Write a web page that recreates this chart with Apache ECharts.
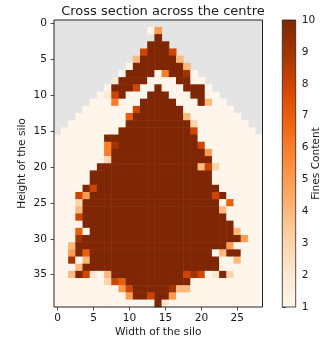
<!DOCTYPE html>
<html>
<head>
<meta charset="utf-8">
<script src="https://cdn.jsdelivr.net/npm/echarts@6/dist/echarts.min.js"></script>
<style>
  html, body { margin: 0; padding: 0; background: #fff; }
  #chart { width: 331px; height: 345px; }
</style>
</head>
<body>
<div id="chart"></div>
<script>
// Fines content across the central section of the silo.
// One string per row (top row first), one character per column:
// '-' = no material (left empty), '1'..'9' = fines content, 'X' = 10.
const fines = [
  "-----------------------------",
  "-------------15--------------",
  "--------------X--------------",
  "-------------XXX-------------",
  "------------8XXX8------------",
  "-----------4XXXXX4-----------",
  "----------1XXXXXXX4----------",
  "---------1XXXX16XX91---------",
  "--------2XXXX1111XX11--------",
  "-------1XXX811X111XXX1-------",
  "------128X111XXX111XX11------",
  "-----1116111XXXXX111X411-----",
  "----11111118XXXXXX1111111----",
  "---11111117XXXXXXX41111111---",
  "--11111111XXXXXXXXX31111111--",
  "-11111111XXXXXXXXXX811111111-",
  "1111111XXXXXXXXXXXXX111111111",
  "111111169XXXXXXXXXXX811111111",
  "11111116XXXXXXXXXXXXX51111111",
  "11111113XXXXXXXXXXXXXX1111111",
  "111111XXXXXXXXXXXXXX483111111",
  "11111XXXXXXXXXXXXXXXXX1111111",
  "11111XXXXXXXXXXXXXXXXX1111111",
  "1111X8XXXXXXXXXXXXXXXXX111111",
  "11185XXXXXXXXXXXXXXXXX8X11111",
  "1113XXXXXXXXXXXXXXXXXXX171111",
  "1114XXXXXXXXXXXXXXXXXXX411111",
  "1118XXXXXXXXXXXXXXXXXXXX11111",
  "1111XXXXXXXXXXXXXXXXXXXXX1111",
  "11171XXXXXXXXXXXXXXXXXXXX4111",
  "1119XXXXXXXXXXXXXXXXXXXXXX511",
  "114XXXXXXXXXXXXXXXXXXXXX51111",
  "115X7XXXXXXXXXXXXXXXXX14XX111",
  "11914XXXXXXXXXXXXXXXXXX114111",
  "1114XXXXXXXXXXXXXXXXXXX111111",
  "114X8214XXXXXXXXXX89812X31111",
  "1111111387XXXXXXXXX1111111111",
  "11111111158XXXXX9441111111111",
  "11111111115XX8XX5111111111111",
  "11111111111111X21111111111111"
];

const widthCats = Array.from({ length: 29 }, (_, i) => String(i));
const heightCats = Array.from({ length: 40 }, (_, i) => String(i));
const tickStep = 5;
const colorbarTicks = [1, 2, 3, 4, 5, 6, 7, 8, 9, 10];
const valueRange = [1, 10];

// matplotlib "Oranges"
const oranges = ['#fff5eb', '#fee6ce', '#fdd0a2', '#fdae6b', '#fd8d3c',
                 '#f16913', '#d94801', '#a63603', '#7f2704'];

const cells = [];
fines.forEach((row, y) => {
  row.split('').forEach((ch, x) => {
    if (ch === '-') return;
    cells.push([x, y, ch === 'X' ? 10 : Number(ch)]);
  });
});

const textColor = '#1a1a1a';
const lineColor = '#222';
const font = 'DejaVu Sans';
const labelSize = 10.6;
const everyFifth = (i) => i % tickStep === 0;

const chart = echarts.init(document.getElementById('chart'), null, { renderer: 'canvas' });
chart.setOption({
  animation: false,
  backgroundColor: '#fff',
  title: {
    text: 'Cross section across the centre',
    left: 158, top: 0.5, textAlign: 'center',
    textStyle: { fontFamily: font, fontSize: 13, fontWeight: 'normal', color: textColor }
  },
  grid: [
    { left: 54, top: 20, width: 208.5, height: 287, show: true,
      backgroundColor: '#e4e4e4', borderWidth: 0 },
    { left: 282.3, top: 20, width: 13.4, height: 287 }
  ],
  xAxis: [
    {
      type: 'category', data: widthCats, gridIndex: 0,
      name: 'Width of the silo', nameLocation: 'middle', nameGap: 19.5, nameMoveOverlap: false,
      nameTextStyle: { fontFamily: font, fontSize: labelSize, color: textColor },
      axisLine: { show: false },
      axisTick: { show: true, alignWithLabel: true, interval: everyFifth, length: 3.5,
                  lineStyle: { color: lineColor, width: 0.8 } },
      axisLabel: { interval: everyFifth, margin: 5.5, fontFamily: font, fontSize: labelSize, color: textColor },
      splitLine: { show: false }
    },
    { type: 'value', gridIndex: 1, min: 0, max: 1, show: false }
  ],
  yAxis: [
    {
      type: 'category', data: heightCats, inverse: true, gridIndex: 0,
      name: 'Height of the silo', nameLocation: 'middle', nameGap: 26, nameRotate: 90,
      nameMoveOverlap: false,
      nameTextStyle: { fontFamily: font, fontSize: labelSize, color: textColor },
      axisLine: { show: false },
      axisTick: { show: true, alignWithLabel: true, interval: everyFifth, length: 3.5,
                  lineStyle: { color: lineColor, width: 0.8 } },
      axisLabel: { interval: everyFifth, margin: 7, fontFamily: font, fontSize: labelSize, color: textColor },
      splitLine: { show: false }
    },
    {
      type: 'value', gridIndex: 1, position: 'right',
      min: valueRange[0], max: valueRange[1], interval: 1,
      name: 'Fines Content', nameLocation: 'middle', nameGap: 14.6, nameRotate: 90,
      nameMoveOverlap: false,
      nameTextStyle: { fontFamily: font, fontSize: labelSize, color: textColor },
      axisLine: { show: false },
      axisTick: { show: true, length: 3.5, lineStyle: { color: lineColor, width: 0.8 } },
      axisLabel: { margin: 6, fontFamily: font, fontSize: labelSize, color: textColor,
                   formatter: (v) => colorbarTicks.includes(v) ? String(v) : '' },
      splitLine: { show: false }
    }
  ],
  visualMap: {
    type: 'continuous', show: false, seriesIndex: 0, dimension: 2,
    min: valueRange[0], max: valueRange[1],
    inRange: { color: oranges }
  },
  series: [
    {
      type: 'heatmap', xAxisIndex: 0, yAxisIndex: 0,
      data: cells, progressive: 0,
      itemStyle: { borderWidth: 0 },
      emphasis: { disabled: true }
    },
    {
      type: 'custom', xAxisIndex: 1, yAxisIndex: 1,
      data: [[0, valueRange[1]]], silent: true,
      renderItem: (params, api) => {
        const p0 = api.coord([0, valueRange[1]]);
        const p1 = api.coord([1, valueRange[0]]);
        const stops = oranges.map((c, i) => ({ offset: 1 - i / (oranges.length - 1), color: c }))
                             .reverse();
        return {
          type: 'rect',
          shape: { x: p0[0], y: p0[1], width: p1[0] - p0[0], height: p1[1] - p0[1] },
          style: {
            fill: new echarts.graphic.LinearGradient(0, 0, 0, 1, stops),
            stroke: lineColor, lineWidth: 0.8
          }
        };
      }
    }
  ],
  graphic: [
    { type: 'rect', z: 100, silent: true,
      shape: { x: 54, y: 20, width: 208.5, height: 287 },
      style: { fill: 'none', stroke: lineColor, lineWidth: 1 } }
  ]
});
</script>
</body>
</html>
